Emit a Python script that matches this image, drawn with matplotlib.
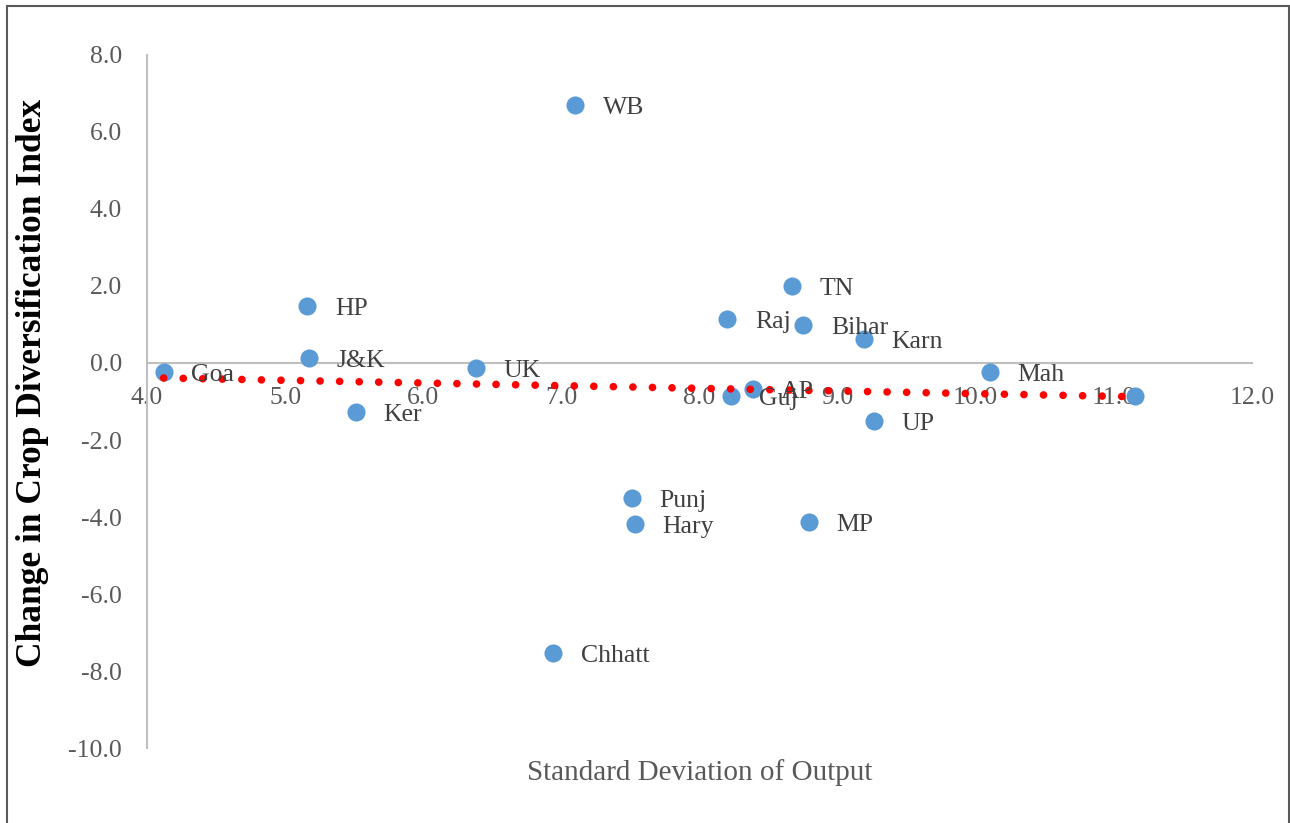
import numpy as np
import matplotlib
matplotlib.use('Agg')
import matplotlib.pyplot as plt
from matplotlib.patches import Rectangle

# state-level values
states = ['Goa', 'HP', 'J&K', 'Ker', 'UK', 'WB', 'Chhatt', 'Punj', 'Hary', 'Raj',
          'TN', 'Bihar', 'Karn', 'Guj', 'AP', 'Mah', 'UP', 'MP', '']
std_output = [4.12, 5.16, 5.17, 5.51, 6.38, 7.10, 6.94, 7.51, 7.53, 8.20,
              8.67, 8.75, 9.19, 8.23, 8.39, 10.10, 9.26, 8.79, 11.15]
change_cdi = [-0.23, 1.48, 0.12, -1.27, -0.14, 6.70, -7.53, -3.51, -4.18, 1.14,
              2.00, 0.98, 0.63, -0.87, -0.68, -0.23, -1.50, -4.13, -0.87]

x_ticks = [4.0, 5.0, 6.0, 7.0, 8.0, 9.0, 10.0, 11.0, 12.0]
y_ticks = [-10.0, -8.0, -6.0, -4.0, -2.0, 0.0, 2.0, 4.0, 6.0, 8.0]

plt.rcParams['font.family'] = ['Liberation Serif', 'DejaVu Serif']

fig = plt.figure(figsize=(12.9, 8.23), dpi=100)
ax = fig.add_axes([0.114, 0.0911, 0.8565, 0.8421])

x = np.array(std_output)
y = np.array(change_cdi)

ax.scatter(x, y, s=170, color='#5B9BD5', zorder=3, linewidths=0)

# linear trend line
coef = np.polyfit(x, y, 1)
xt = np.array([x.min(), x.max()])
ax.plot(xt, np.polyval(coef, xt), color='#FF0000', lw=5.5,
        linestyle=(0, (0.01, 2.55)), dash_capstyle='round', zorder=4)

for name, xi, yi in zip(states, x, y):
    if name:
        ax.annotate(name, (xi, yi), xytext=(20, -2), textcoords='offset points',
                    va='center', ha='left', fontsize=18.5, color='#404040', zorder=5)

ax.set_xlim(4, 12)
ax.set_ylim(-10, 8)
ax.set_xticks(x_ticks)
ax.set_yticks(y_ticks)
ax.set_xticklabels(['%.1f' % t for t in x_ticks])
ax.set_yticklabels(['%.1f' % t for t in y_ticks])

ax.spines['top'].set_visible(False)
ax.spines['right'].set_visible(False)
ax.spines['left'].set_position(('data', 4))
ax.spines['bottom'].set_position(('data', 0))
for s in ['left', 'bottom']:
    ax.spines[s].set_color('#BFBFBF')
    ax.spines[s].set_linewidth(1.5)
ax.tick_params(axis='both', length=0, labelsize=18.5, labelcolor='#595959')
ax.tick_params(axis='y', pad=18)
ax.tick_params(axis='x', pad=17)

ax.text(0.5, -0.035, 'Standard Deviation of Output', transform=ax.transAxes,
        ha='center', va='center', fontsize=21, color='#595959')
fig.text(33 / 1290, 1 - 383 / 823, 'Change in Crop Diversification Index',
         rotation=90, ha='center', va='center', fontsize=25.5, fontweight='bold',
         color='black')

# outer frame
fig.patches.append(Rectangle((7 / 1290, -0.05), 1282 / 1290, 1.05 - 6 / 823,
                             transform=fig.transFigure, fill=False,
                             edgecolor='#595959', lw=1.5))

fig.savefig('out.png', dpi=100)
